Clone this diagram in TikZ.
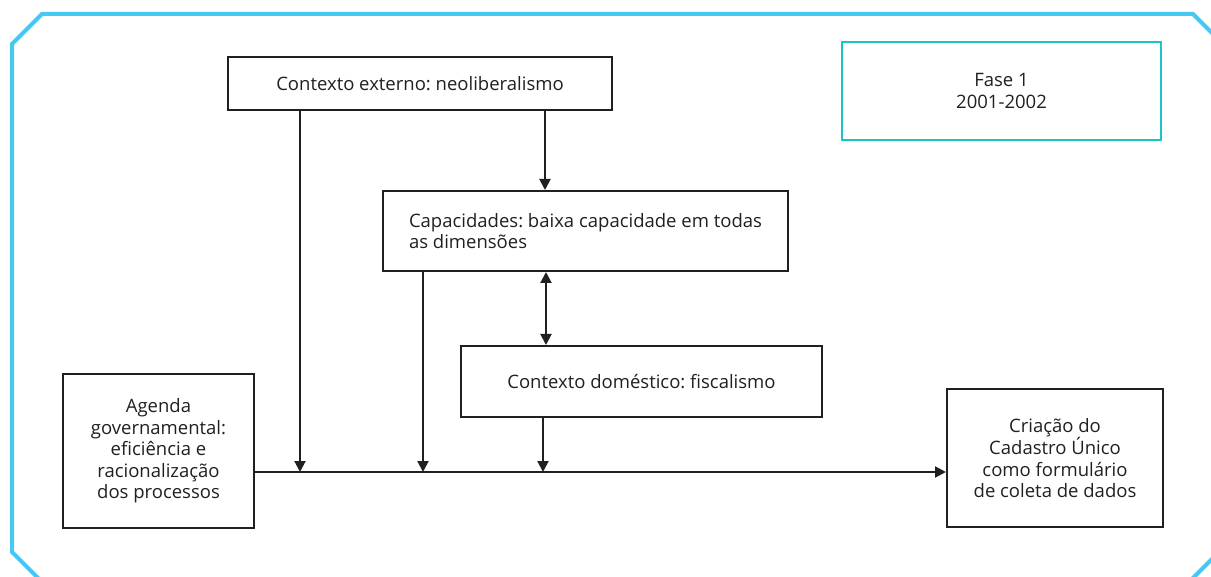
\documentclass[tikz,border=0pt]{standalone}
\usepackage{fontspec}
\setmainfont{Open Sans}
\usetikzlibrary{arrows.meta}
\definecolor{bordercyan}{HTML}{45C8F2}
\definecolor{tealbox}{HTML}{1CC4C8}
\definecolor{ink}{HTML}{231F20}
\begin{document}
\frenchspacing
\begin{tikzpicture}[x=1pt,y=-1pt,
  box/.style={draw=ink, line width=2pt, fill=white, text=ink, inner sep=0pt,
    align=center, font=\fontsize{18.5}{21.5}\selectfont},
  arr/.style={draw=ink, line width=2pt, -{Triangle[length=11pt,width=11pt]}},
  darr/.style={draw=ink, line width=2pt, {Triangle[length=11pt,width=11pt]}-{Triangle[length=11pt,width=11pt]}},
  line/.style={draw=ink, line width=2pt}
]
\useasboundingbox (0,0) rectangle (1211,577);
\clip (0,0) rectangle (1211,577);
% outer frame
\draw[bordercyan, line width=4pt, line join=miter]
  (12,44) -- (42,14) -- (1193,14) -- (1223,44) -- (1223,548) -- (1189,582) -- (42,582) -- (12,552) -- cycle;

\node[box, minimum width=384pt, minimum height=53pt] (ext) at (420,83.5) {Contexto externo: neoliberalismo};
\node[box, draw=tealbox, line width=2.5pt, minimum width=319pt, minimum height=98pt] (fase) at (1001.5,91) {Fase 1\\2001-2002};
\node[box, minimum width=405pt, minimum height=80pt, align=left] (cap) at (585.5,231) {Capacidades: baixa capacidade em todas\\as dimensões};
\node[box, minimum width=361pt, minimum height=71pt] (dom) at (641.5,381.5) {Contexto doméstico: fiscalismo};
\node[box, minimum width=191pt, minimum height=154pt] (agenda) at (158.5,451) {Agenda\\governamental:\\eficiência e\\racionalização\\dos processos};
\node[box, minimum width=216pt, minimum height=138pt] (cria) at (1055,458) {Criação do\\Cadastro Único\\como formulário\\de coleta de dados};

\coordinate (m) at (0,472);
\coordinate (j1) at (300,472);
\coordinate (j2) at (423,472);
\coordinate (j3) at (543,472);
\coordinate (c1) at (545,0);
\coordinate (c2) at (546,0);

\draw[arr] (agenda.east |- m) -- (cria.west |- m);
\draw[arr] (ext.south -| j1) -- (j1);
\draw[arr] (ext.south -| c1) -- (cap.north -| c1);
\draw[arr] (cap.south -| j2) -- (j2);
\draw[darr] (cap.south -| c2) -- (dom.north -| c2);
\draw[arr] (dom.south -| j3) -- (j3);
\end{tikzpicture}
\end{document}
